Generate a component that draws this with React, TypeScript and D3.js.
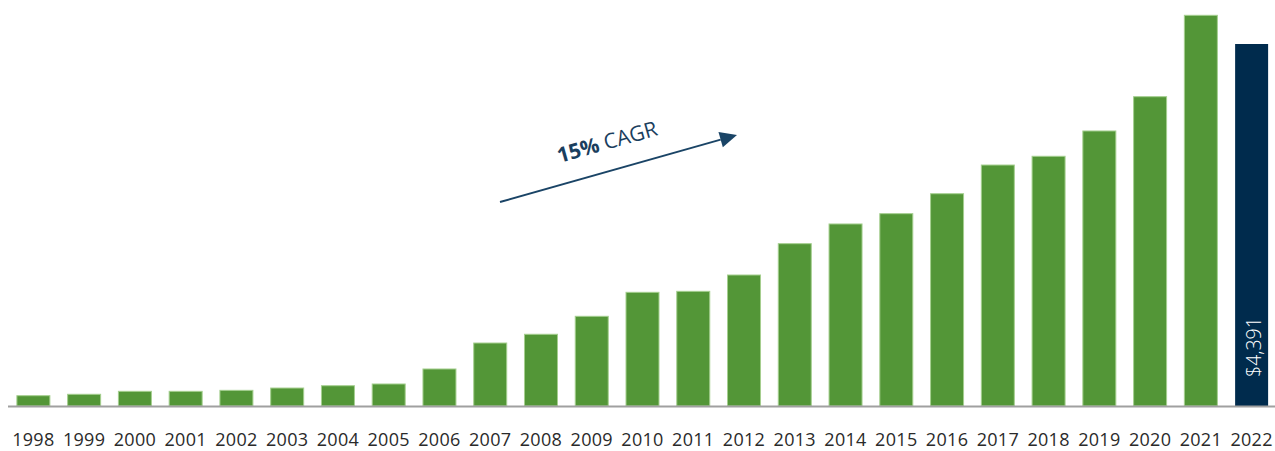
import React from "react";
import * as d3 from "d3";

const years = [
  "1998","1999","2000","2001","2002","2003","2004","2005","2006","2007","2008","2009",
  "2010","2011","2012","2013","2014","2015","2016","2017","2018","2019","2020","2021","2022",
];
const values = [
  125, 142, 178, 178, 190, 218, 246, 267, 449, 764, 870, 1088,
  1379, 1391, 1589, 1969, 2208, 2333, 2575, 2923, 3029, 3336, 3752, 4739, 4391,
];
const highlightYear = "2022";
const highlightLabel = "$4,391";
const cagrBold = "15%";
const cagrRest = " CAGR";

const W = 1275;
const H = 451;
const baseY = 406;

export default function App() {
  const x = d3.scaleBand<string>().domain(years).range([8, 1277]).paddingInner(0.35).paddingOuter(0.175);
  const y = d3.scaleLinear().domain([0, 5000]).range([baseY, baseY - 5000 * (362 / 4391)]);
  const font = "'Open Sans', sans-serif";
  const hx = (x(highlightYear) ?? 0) + x.bandwidth() / 2;

  // arrow
  const a0 = [500, 202];
  const a1 = [737, 135];
  const ang = Math.atan2(a1[1] - a0[1], a1[0] - a0[0]);
  const deg = (ang * 180) / Math.PI;
  const headLen = 17;
  const headW = 8;
  const bx = a1[0] - headLen * Math.cos(ang);
  const by = a1[1] - headLen * Math.sin(ang);
  const px = -Math.sin(ang);
  const py = Math.cos(ang);
  const head = `M${a1[0]},${a1[1]} L${bx + px * headW},${by + py * headW} L${bx - px * headW},${by - py * headW} Z`;

  return (
    <svg width={W} height={H} style={{ position: "absolute", left: 0, top: 0, display: "block" }}>
      <rect width={W} height={H} fill="#fff" />
      {years.map((yr, i) => {
        const isH = yr === highlightYear;
        return (
          <rect
            key={yr}
            x={x(yr)}
            y={y(values[i])}
            width={x.bandwidth()}
            height={baseY - y(values[i])}
            fill={isH ? "#002B4D" : "#539637"}
            stroke={isH ? "none" : "#A5CF8F"}
            strokeWidth={1}
          />
        );
      })}
      <line x1={8} x2={W} y1={baseY + 0.5} y2={baseY + 0.5} stroke="#A0A0A0" strokeWidth={2} />
      {years.map((yr) => (
        <text
          key={"t" + yr}
          x={(x(yr) ?? 0) + x.bandwidth() / 2}
          y={446}
          textAnchor="middle"
          fontFamily={font}
          fontSize={18}
          letterSpacing={0.3}
          fill="#2a2a2a"
        >
          {yr}
        </text>
      ))}
      <text
        transform={`translate(${hx + 9},${377}) rotate(-90)`}
        textAnchor="start"
        fontFamily={font}
        fontSize={19.5}
        fontWeight={300}
        fill="#fff"
      >
        {highlightLabel}
      </text>
      <line x1={a0[0]} y1={a0[1]} x2={bx} y2={by} stroke="#1A4466" strokeWidth={2} />
      <path d={head} fill="#1A4466" />
      <text
        transform={`translate(${609},${149}) rotate(${deg})`}
        textAnchor="middle"
        fontFamily={font}
        fontSize={21}
        fill="#1A3E5E"
      >
        <tspan fontWeight={700}>{cagrBold}</tspan>
        <tspan>{cagrRest}</tspan>
      </text>
    </svg>
  );
}
